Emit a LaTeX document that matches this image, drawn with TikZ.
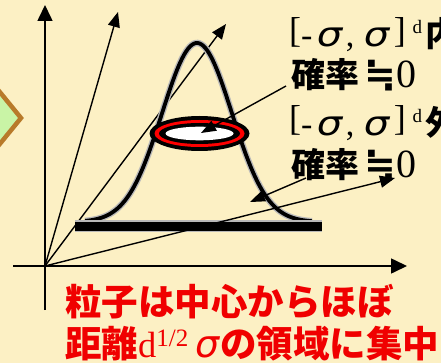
\documentclass[tikz,border=0pt]{standalone}
\usepackage{fontspec}
\setmainfont{Liberation Serif}
\newfontfamily\jp{Noto Sans CJK JP}
\newfontfamily\sg{DejaVu Sans}
\usetikzlibrary{arrows.meta}
\definecolor{bg}{HTML}{FCF0C4}
\definecolor{dfill}{HTML}{C9F4A6}
\definecolor{dline}{HTML}{B87A2A}
\definecolor{txtred}{HTML}{F00000}
\newcommand\mysig{{\sg\itshape\scalebox{1.18}[1]{σ}}}
\newcommand\bigsig{{\sg\itshape\fontsize{38}{38}\selectfont σ}}
\newcommand\aeq{{\sg\bfseries\fontsize{38}{38}\selectfont ≒}}
\newcommand\zer{{\fontsize{40}{40}\selectfont 0}}
\newcommand\lbr{\raisebox{4.5pt}{\fontsize{36}{36}\selectfont [}}
\newcommand\rbr{\raisebox{4.5pt}{\fontsize{36}{36}\selectfont ]}}
\newcommand\supd{\raisebox{13pt}{\fontsize{19}{19}\selectfont d}}
\tikzset{
  txt/.style={anchor=base west, inner sep=0pt, font=\fontsize{34}{34}\selectfont},
  redtxt/.style={anchor=base west, inner sep=0pt, text=txtred, font=\fontsize{36.5}{36.5}\selectfont},
  axis/.style={line width=1.6pt, -{Triangle[length=16pt,width=15pt]}},
  ray/.style={line width=1.4pt, -{Triangle[length=15pt,width=12pt]}},
  ptr/.style={line width=1.4pt, -{Triangle[length=15pt,width=11pt]}},
}
\begin{document}
\begin{tikzpicture}[x=1pt,y=-1pt]
\useasboundingbox (0,0) rectangle (441,363);
\clip (0,0) rectangle (441,363);
\fill[bg] (0,0) rectangle (441,363);
% diamond (partly visible)
\draw[fill=dfill, draw=dline, line width=4.5pt, line join=miter] (21,118) -- (-10,80) -- (-41,118) -- (-10,156) -- cycle;
% origin and axes
\coordinate (O) at (45,266);
\coordinate (ybot) at (45,310);
\coordinate (ytop) at (45,5);
\coordinate (xl) at (13,266);
\coordinate (xr) at (407,266);
\coordinate (r1) at (118,12);
\coordinate (r2) at (226,24);
\coordinate (r3) at (395,178);
\draw[axis] (ybot) -- (ytop);
\draw[axis] (xl) -- (xr);
\draw[ray] (O) -- (r1);
\draw[ray] (O) -- (r2);
% bell curve and base bar
\draw[gray!55, line width=6.5pt] plot[domain=85:312, samples=120] (\x, {222-179*exp(-((\x-197)^2)/2450)});
\draw[black, line width=3.8pt] plot[domain=85:312, samples=120] (\x, {222-179*exp(-((\x-197)^2)/2450)});
\draw[gray!55, line width=12pt] (75,226) -- (322,226);
\draw[black, line width=9pt] (75,226.5) -- (322,226.5);
\draw[ray] (O) -- (r3);
% ring
\coordinate (E) at (199.5,133.5);
\fill[black] (E) ellipse [x radius=50pt, y radius=17.5pt];
\fill[red] (E) ellipse [x radius=45pt, y radius=13.5pt];
\fill[black] (E) ellipse [x radius=40.5pt, y radius=10.5pt];
\fill[white] (E) ellipse [x radius=34pt, y radius=6.8pt];
% texts
\node[txt] (l1) at (289,47) {\lbr-\hspace{4.4pt}\mysig\hspace{3.6pt},\hspace{9.5pt}\mysig\hspace{4.6pt}\rbr\hspace{6.7pt}\supd\hspace{3.5pt}{\jp\bfseries 内}};
\node[txt] (l2) at (291,88) {{\jp\bfseries 確率}\hspace{5pt}\aeq\zer};
\node[txt] (l3) at (289,135.5) {\lbr-\hspace{4.4pt}\mysig\hspace{3.6pt},\hspace{9.5pt}\mysig\hspace{4.6pt}\rbr\hspace{6.7pt}\supd\hspace{3.5pt}{\jp\bfseries 外}};
\node[txt] (l4) at (291,178) {{\jp\bfseries 確率}\hspace{5pt}\aeq\zer};
\node[redtxt] (m1) at (65,315) {{\jp\bfseries 粒子は中心からほぼ}};
\node[redtxt] (m2) at (65,357) {{\jp\bfseries 距離}d\raisebox{11pt}{\fontsize{25}{25}\selectfont 1/2}\hspace{7pt}\bigsig\hspace{1pt}{\jp\bfseries の領域に集中}};
% pointers
\coordinate (p1s) at (286,86);
\coordinate (p1e) at (201,133);
\coordinate (p2s) at (306,178);
\coordinate (p2e) at (250,202);
\draw[ptr] (p1s) -- (p1e);
\draw[ptr] (p2s) -- (p2e);
\end{tikzpicture}
\end{document}
